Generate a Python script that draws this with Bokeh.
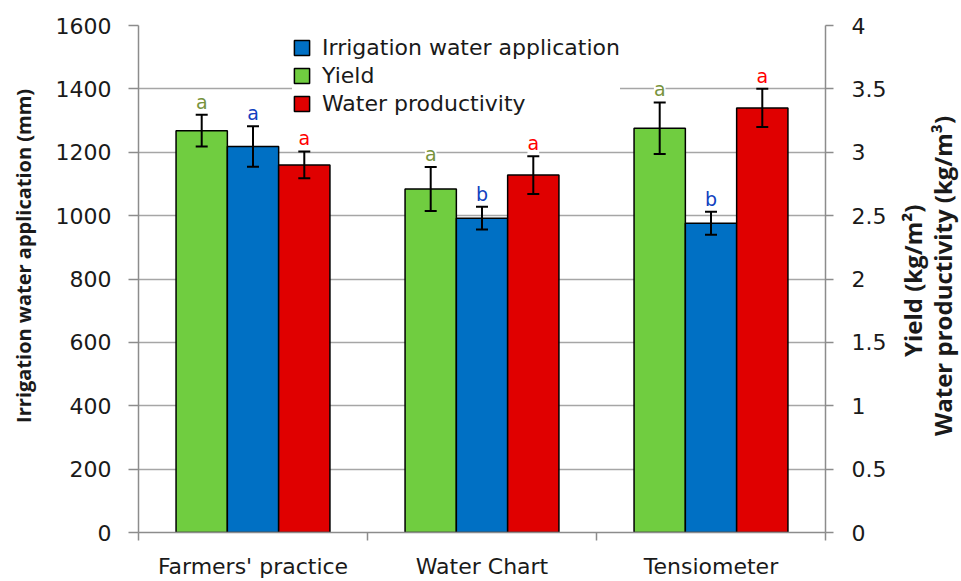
import math
from bokeh.plotting import figure
from bokeh.layouts import row
from bokeh.models import (Range1d, LinearAxis, FixedTicker, NumeralTickFormatter,
                          ColumnDataSource, Whisker, TeeHead, LabelSet, Legend, LegendItem)
from bokeh.core.properties import value
from bokeh.transform import dodge
from bokeh.embed import file_html
from bokeh.resources import INLINE

# ---- data ----
treatments = ["Farmers' practice", "Water Chart", "Tensiometer"]
irrigation = [1218, 992, 976]          # mm (left axis)
irrigation_err = [64, 36, 36]
irrigation_letters = ["a", "b", "b"]
yield_vals = [3.17, 2.71, 3.19]        # kg/m2 (right axis)
yield_err = [0.125, 0.174, 0.203]
yield_letters = ["a", "a", "a"]
wp_vals = [2.90, 2.82, 3.35]           # kg/m3 (right axis)
wp_err = [0.106, 0.149, 0.151]
wp_letters = ["a", "a", "a"]
left_ticks = [0, 200, 400, 600, 800, 1000, 1200, 1400, 1600]
right_ticks = [0, 0.5, 1, 1.5, 2, 2.5, 3, 3.5, 4]
left_title = ["Irrigation water application (mm)"]
right_titles = ["Yield  (kg/m\u00b2)", "Water productivity (kg/m\u00b3)"]

FONT = "DejaVu Sans"
TFONT = "Open Sans"
GREEN, BLUE, RED = "#70CD40", "#0070C4", "#E00000"
GREEN_T, BLUE_T, RED_T = "#77933C", "#1040C0", "#FF0000"
AXIS_C = "#8C8C8C"
GRID_C = "#A6A6A6"
TXT_C = "#1A1A1A"
BW = 0.224
H = 581
LW, PW, RW = 40, 855, 66   # left title strip, main plot, right title strip

centers = [i + 0.5 for i in range(len(treatments))]
src = ColumnDataSource(dict(
    x=centers,
    irr=irrigation, irr_lo=[v - e for v, e in zip(irrigation, irrigation_err)],
    irr_up=[v + e for v, e in zip(irrigation, irrigation_err)], irr_let=irrigation_letters,
    yld=yield_vals, yld_lo=[v - e for v, e in zip(yield_vals, yield_err)],
    yld_up=[v + e for v, e in zip(yield_vals, yield_err)], yld_let=yield_letters,
    wp=wp_vals, wp_lo=[v - e for v, e in zip(wp_vals, wp_err)],
    wp_up=[v + e for v, e in zip(wp_vals, wp_err)], wp_let=wp_letters,
))

p = figure(width=PW, height=H, output_backend="svg", toolbar_location=None,
           x_range=Range1d(0, len(treatments)), y_range=Range1d(left_ticks[0], left_ticks[-1]),
           min_border_left=98, min_border_right=70, min_border_top=25, min_border_bottom=47)
p.extra_y_ranges = {"right": Range1d(right_ticks[0], right_ticks[-1])}
p.outline_line_color = None
p.background_fill_color = "white"

# grid
p.xgrid.grid_line_color = None
p.ygrid.ticker = FixedTicker(ticks=left_ticks)
p.ygrid.grid_line_color = GRID_C
p.ygrid.grid_line_width = 1.5

# left axis
ya = p.yaxis[0]
ya.ticker = FixedTicker(ticks=left_ticks)
ya.axis_line_color = AXIS_C
ya.axis_line_width = 1.5
ya.major_tick_line_color = AXIS_C
ya.major_tick_line_width = 1.5
ya.major_tick_in = 0
ya.major_tick_out = 10
ya.minor_tick_line_color = None
ya.major_label_text_font = FONT
ya.major_label_text_font_size = "22px"
ya.major_label_text_color = TXT_C
ya.major_label_standoff = 17

# right axis
ra = LinearAxis(y_range_name="right", ticker=FixedTicker(ticks=right_ticks),
                formatter=NumeralTickFormatter(format="0.[0]"))
ra.axis_line_color = AXIS_C
ra.axis_line_width = 1.5
ra.major_tick_line_color = AXIS_C
ra.major_tick_line_width = 1.5
ra.major_tick_in = 0
ra.major_tick_out = 8
ra.minor_tick_line_color = None
ra.major_label_text_font = FONT
ra.major_label_text_font_size = "22px"
ra.major_label_text_color = TXT_C
ra.major_label_standoff = 18
p.add_layout(ra, "right")

# x axis
xa = p.xaxis[0]
xa.ticker = FixedTicker(ticks=centers, minor_ticks=list(range(len(treatments) + 1)))
xa.major_label_overrides = {c: t for c, t in zip(centers, treatments)}
xa.axis_line_color = AXIS_C
xa.axis_line_width = 1.5
xa.major_tick_line_color = None
xa.major_tick_in = 0
xa.major_tick_out = 0
xa.minor_tick_line_color = AXIS_C
xa.minor_tick_line_width = 1.5
xa.minor_tick_in = 0
xa.minor_tick_out = 8
xa.major_label_text_font = FONT
xa.major_label_text_font_size = "22px"
xa.major_label_text_color = TXT_C
xa.major_label_standoff = 13

# bars
xg = dodge("x", -BW, range=p.x_range)
xb = dodge("x", 0, range=p.x_range)
xr = dodge("x", BW, range=p.x_range)
rg = p.vbar(x=xg, top="yld", bottom=0, width=BW, source=src, y_range_name="right",
            fill_color=GREEN, line_color="black", line_width=1.5)
rb = p.vbar(x=xb, top="irr", bottom=0, width=BW, source=src,
            fill_color=BLUE, line_color="black", line_width=1.5)
rr = p.vbar(x=xr, top="wp", bottom=0, width=BW, source=src, y_range_name="right",
            fill_color=RED, line_color="black", line_width=1.5)

# significance letters (white box hides gridlines behind them)
def letters(xx, yy, tt, color, rng):
    kw = dict(x=xx, y=yy, text=tt, source=src, text_align="center", text_baseline="bottom",
              y_offset=2, text_font=value(FONT), text_font_size=value("19px"),
              text_color=value(color), background_fill_color="white", level="annotation")
    if rng:
        kw["y_range_name"] = rng
    p.add_layout(LabelSet(**kw))

letters(xg, "yld_up", "yld_let", GREEN_T, "right")
letters(xb, "irr_up", "irr_let", BLUE_T, None)
letters(xr, "wp_up", "wp_let", RED_T, "right")

# error bars
def whisk(base, lo, up, rng):
    kw = dict(base=base, lower=lo, upper=up, source=src, line_color="black", line_width=2,
              level="overlay",
              upper_head=TeeHead(size=12, line_width=2, line_color="black"),
              lower_head=TeeHead(size=12, line_width=2, line_color="black"))
    if rng:
        kw["y_range_name"] = rng
    p.add_layout(Whisker(**kw))

whisk(xg, "yld_lo", "yld_up", "right")
whisk(xb, "irr_lo", "irr_up", None)
whisk(xr, "wp_lo", "wp_up", "right")

# legend
legend = Legend(items=[
    LegendItem(label="Irrigation water application", renderers=[rb]),
    LegendItem(label="Yield", renderers=[rg]),
    LegendItem(label="Water productivity", renderers=[rr]),
], location=(154, 416))
legend.background_fill_color = "white"
legend.background_fill_alpha = 1.0
legend.border_line_color = None
legend.padding = 6
legend.spacing = 3
legend.glyph_width = 19
legend.glyph_height = 19
legend.label_height = 20
legend.label_standoff = 11
legend.label_text_font = FONT
legend.label_text_font_size = "22px"
legend.label_text_color = TXT_C
legend.margin = 0
p.add_layout(legend)

# axis titles: narrow strips either side so that they read bottom-to-top
def strip(width):
    f = figure(width=width, height=H, output_backend="svg", toolbar_location=None,
               x_range=Range1d(0, width), y_range=Range1d(0, H),
               x_axis_type=None, y_axis_type=None, min_border=0)
    f.outline_line_color = None
    f.xgrid.visible = False
    f.ygrid.visible = False
    return f

lt = strip(LW)
lt.text(x=[23], y=[H - 264], text=left_title, angle=math.pi / 2,
        text_align="center", text_baseline="middle", text_font=value(TFONT),
        text_font_size=value("20px"), text_font_style=value("bold"), text_color=TXT_C)

rt = strip(RW)
rt.text(x=[17, 47], y=[H - 289, H - 287], text=right_titles, angle=math.pi / 2,
        text_align="center", text_baseline="middle", text_font=value(TFONT),
        text_font_size=value("24px"), text_font_style=value("bold"), text_color=TXT_C)

page = row(lt, p, rt, spacing=0)
open("out.html", "w").write(file_html(page, INLINE))
